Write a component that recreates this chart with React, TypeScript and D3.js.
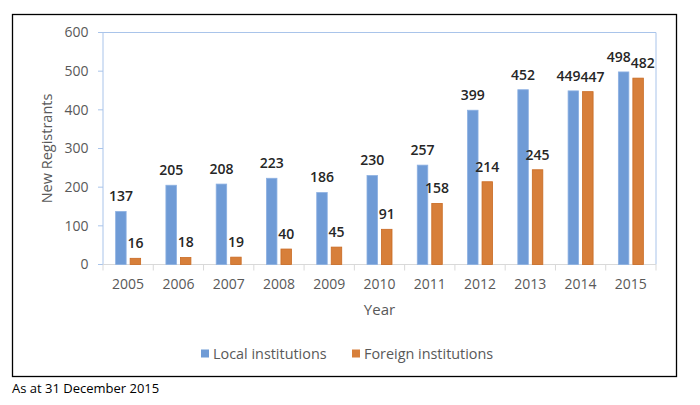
import { useEffect, useRef } from 'react'
import * as d3 from 'd3'

const years = ['2005', '2006', '2007', '2008', '2009', '2010', '2011', '2012', '2013', '2014', '2015']
const localInstitutions = [137, 205, 208, 223, 186, 230, 257, 399, 452, 449, 498]
const foreignInstitutions = [16, 18, 19, 40, 45, 91, 158, 214, 245, 447, 482]
const yTicks = [0, 100, 200, 300, 400, 500, 600]
const seriesNames = ['Local institutions', 'Foreign institutions']
const colors = ['#6f9bd6', '#d77f3a']
const strokes = ['#8cb0e2', '#c96a22']

const FONT = '"Open Sans", sans-serif'

const App = () => {
  const svgRef = useRef<SVGSVGElement | null>(null)
  const width = 700
  const height = 405
  const plot = { left: 103, right: 656, top: 32.5, bottom: 264.5 }

  useEffect(() => {
    if (!svgRef.current) return
    const svg = d3.select(svgRef.current)
    svg.selectAll('*').remove()

    // outer frame
    svg.append('rect')
      .attr('x', 12.5).attr('y', 14.5)
      .attr('width', 664).attr('height', 362)
      .attr('fill', 'white')
      .attr('stroke', '#000').attr('stroke-width', 1.3)

    const x = d3.scaleBand().domain(years).range([plot.left, plot.right])
    const y = d3.scaleLinear().domain([0, 600]).range([plot.bottom, plot.top])

    const barW = 10.5
    const gap = 4

    // plot-area border (top, right) and y axis
    svg.append('path')
      .attr('d', `M${plot.left},${plot.bottom}V${plot.top}H${plot.right}V${plot.bottom}`)
      .attr('fill', 'none')
      .attr('stroke', '#a9c4ea')
      .attr('stroke-width', 1)

    // y ticks
    const yg = svg.append('g')
    yg.selectAll('line')
      .data(yTicks)
      .enter()
      .append('line')
      .attr('x1', plot.left - 5).attr('x2', plot.left)
      .attr('y1', d => y(d)).attr('y2', d => y(d))
      .attr('stroke', '#a9c4ea')
    yg.selectAll('text')
      .data(yTicks)
      .enter()
      .append('text')
      .attr('x', 88.5)
      .attr('y', d => y(d))
      .attr('dy', '0.35em')
      .attr('text-anchor', 'end')
      .attr('fill', '#595959')
      .style('font', `14px ${FONT}`)
      .text(d => d)

    // x axis
    svg.append('line')
      .attr('x1', plot.left).attr('x2', plot.right)
      .attr('y1', plot.bottom).attr('y2', plot.bottom)
      .attr('stroke', '#d9d9d9')
    const bounds = years.map(d => x(d) as number).concat([plot.right])
    svg.append('g').selectAll('line')
      .data(bounds)
      .enter()
      .append('line')
      .attr('x1', d => d).attr('x2', d => d)
      .attr('y1', plot.bottom).attr('y2', plot.bottom + 6)
      .attr('stroke', '#d9d9d9')
    svg.append('g').selectAll('text')
      .data(years)
      .enter()
      .append('text')
      .attr('x', d => (x(d) as number) + x.bandwidth() / 2)
      .attr('y', 284.5)
      .attr('dy', '0.35em')
      .attr('text-anchor', 'middle')
      .attr('fill', '#595959')
      .style('font', `14px ${FONT}`)
      .text(d => d)

    // bars + labels
    const series = [localInstitutions, foreignInstitutions]
    const labelSel: d3.Selection<SVGTextElement, number, SVGGElement, unknown>[] = []
    series.forEach((vals, si) => {
      const offset = si === 0 ? -gap / 2 - barW : gap / 2
      const g = svg.append('g')
      g.selectAll('rect')
        .data(vals)
        .enter()
        .append('rect')
        .attr('x', (_, i) => (x(years[i]) as number) + x.bandwidth() / 2 + offset)
        .attr('y', d => y(d))
        .attr('width', barW)
        .attr('height', d => plot.bottom - y(d))
        .attr('fill', colors[si])
        .attr('stroke', strokes[si])
        .attr('stroke-width', 0.8)
      const t = g.selectAll<SVGTextElement, number>('text')
        .data(vals)
        .enter()
        .append('text')
        .attr('x', (_, i) => (x(years[i]) as number) + x.bandwidth() / 2 + offset + barW / 2)
        .attr('y', d => y(d) - 15)
        .attr('dy', '0.35em')
        .attr('text-anchor', 'middle')
        .attr('fill', '#262626')
        .style('font', `600 14px ${FONT}`)
        .text(d => d)
      labelSel.push(t as any)
    })

    // push apart labels of a pair that would collide
    const a = labelSel[0].nodes()
    const b = labelSel[1].nodes()
    years.forEach((_, i) => {
      const na = a[i], nb = b[i]
      const ya = +na.getAttribute('y')!, yb = +nb.getAttribute('y')!
      if (Math.abs(ya - yb) > 16) return
      const xa = +na.getAttribute('x')!, xb = +nb.getAttribute('x')!
      const need = (na.getComputedTextLength() + nb.getComputedTextLength()) / 2
      const overlap = need - (xb - xa)
      if (overlap > 0) {
        na.setAttribute('x', String(xa - overlap / 2))
        nb.setAttribute('x', String(xb + overlap / 2))
      }
    })

    // axis titles
    svg.append('text')
      .attr('transform', `translate(47,${(plot.top + plot.bottom) / 2}) rotate(-90)`)
      .attr('dy', '0.35em')
      .attr('text-anchor', 'middle')
      .attr('fill', '#595959')
      .style('font', `14.5px ${FONT}`)
      .text('New Registrants')
    svg.append('text')
      .attr('x', (plot.left + plot.right) / 2)
      .attr('y', 309.5)
      .attr('dy', '0.35em')
      .attr('text-anchor', 'middle')
      .attr('fill', '#595959')
      .style('font', `15px ${FONT}`)
      .text('Year')

    // legend
    const legendX = [201, 352]
    seriesNames.forEach((name, i) => {
      svg.append('rect')
        .attr('x', legendX[i]).attr('y', 349.5)
        .attr('width', 8).attr('height', 8)
        .attr('fill', colors[i])
      svg.append('text')
        .attr('x', legendX[i] + 12)
        .attr('y', 353.5)
        .attr('dy', '0.35em')
        .attr('fill', '#595959')
        .style('font', `14.4px ${FONT}`)
        .text(name)
    })

    // footer
    svg.append('text')
      .attr('x', 12)
      .attr('y', 388)
      .attr('dy', '0.35em')
      .attr('fill', '#000')
      .style('font', `13px ${FONT}`)
      .text('As at 31 December 2015')
  }, [])

  return (
    <svg
      ref={svgRef}
      width={width}
      height={height}
      style={{ position: 'absolute', left: 0, top: 0, background: 'white' }}
    />
  )
}

export default App
